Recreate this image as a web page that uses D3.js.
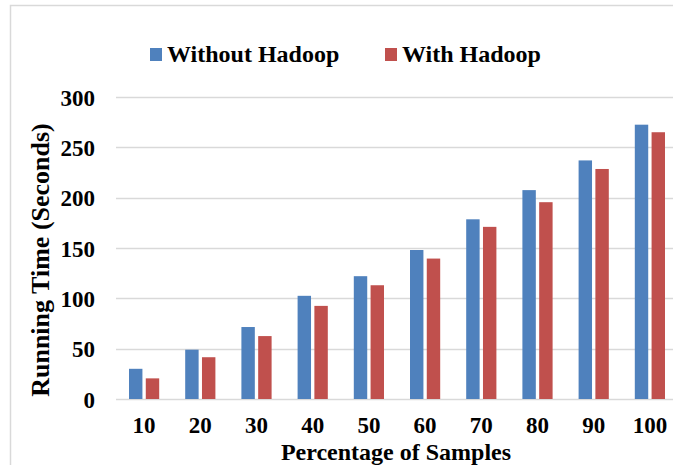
<!DOCTYPE html>
<html>
<head>
<meta charset="utf-8">
<script src="https://cdn.jsdelivr.net/npm/d3@7"></script>
<style>
  body { margin: 0; background: #fff; }
  svg { display: block; }
  text { font-family: "Liberation Serif", "Times New Roman", serif; font-weight: bold; fill: #000; }
</style>
</head>
<body>
<div id="chart"></div>
<script>
var categories = ['10', '20', '30', '40', '50', '60', '70', '80', '90', '100'];
var withoutHadoop = [30, 49, 71.5, 102.5, 122, 148, 178.5, 207.5, 237, 272.5];
var withHadoop = [20.5, 41.5, 62.5, 92.5, 113, 139.5, 171, 195.5, 228.5, 265];
var seriesNames = ['Without Hadoop', 'With Hadoop'];
var seriesColors = ['#4f81bd', '#c0504d'];
var yTicks = [0, 50, 100, 150, 200, 250, 300];

var W = 673, H = 465;
var margin = {top: 97, right: -5, bottom: 66, left: 116};
var width = W - margin.left - margin.right;
var height = H - margin.top - margin.bottom;

var svg = d3.select('#chart').append('svg')
  .attr('width', W)
  .attr('height', H);

// outer chart border
svg.append('rect')
  .attr('x', 10.5).attr('y', 5.5)
  .attr('width', 700).attr('height', 500)
  .attr('fill', 'none')
  .attr('stroke', '#d9d9d9')
  .attr('stroke-width', 1.5);

var g = svg.append('g')
  .attr('transform', 'translate(' + margin.left + ',' + margin.top + ')');

var x0 = d3.scaleBand().domain(categories).range([0, width]).paddingInner(0).paddingOuter(0);
var x1 = d3.scaleBand().domain(seriesNames).range([13, x0.bandwidth() - 13]).paddingInner(0.2);
var y = d3.scaleLinear().domain([0, 300]).range([height, 0]);

// gridlines
g.append('g').selectAll('line')
  .data(yTicks)
  .enter().append('line')
  .attr('x1', 0).attr('x2', width)
  .attr('y1', function(d) { return Math.round(y(d)) + 0.5; })
  .attr('y2', function(d) { return Math.round(y(d)) + 0.5; })
  .attr('stroke', '#d9d9d9')
  .attr('stroke-width', 1.5);

var data = categories.map(function(c, i) {
  return {cat: c, vals: [withoutHadoop[i], withHadoop[i]]};
});

var groups = g.append('g').selectAll('g')
  .data(data)
  .enter().append('g')
  .attr('transform', function(d) { return 'translate(' + x0(d.cat) + ',0)'; });

groups.selectAll('rect')
  .data(function(d) { return d.vals.map(function(v, j) { return {name: seriesNames[j], value: v, j: j}; }); })
  .enter().append('rect')
  .attr('x', function(d) { return x1(d.name); })
  .attr('width', x1.bandwidth())
  .attr('y', function(d) { return y(d.value); })
  .attr('height', function(d) { return y(0) - y(d.value); })
  .attr('fill', function(d) { return seriesColors[d.j]; });

// y axis labels
var yAxis = d3.axisLeft(y).tickValues(yTicks).tickSize(0).tickPadding(21);
g.append('g').call(yAxis)
  .call(function(s) { s.select('.domain').remove(); })
  .selectAll('text')
  .style('font-size', '23px')
  .style('font-family', '"Liberation Serif", serif')
  .attr('dy', '0.35em');

// x axis labels
var xAxis = d3.axisBottom(x0).tickSize(0);
g.append('g').attr('transform', 'translate(0,' + height + ')').call(xAxis)
  .call(function(s) { s.select('.domain').remove(); })
  .selectAll('text')
  .attr('y', 34).attr('dy', 0)
  .style('font-size', '23px')
  .style('font-family', '"Liberation Serif", serif');

// axis titles
svg.append('text')
  .attr('x', 396).attr('y', 460)
  .attr('text-anchor', 'middle')
  .style('font-size', '24px')
  .text('Percentage of Samples');

svg.append('text')
  .attr('transform', 'translate(49,260) rotate(-90)')
  .attr('text-anchor', 'middle')
  .style('font-size', '26px')
  .text('Running Time (Seconds)');

// legend
var legendX = [150, 385];
var legend = svg.append('g').selectAll('g')
  .data(seriesNames)
  .enter().append('g')
  .attr('transform', function(d, i) { return 'translate(' + legendX[i] + ',48)'; });

legend.append('rect')
  .attr('width', 12).attr('height', 13)
  .attr('fill', function(d, i) { return seriesColors[i]; });

legend.append('text')
  .attr('x', 17).attr('y', 14)
  .style('font-size', '24px')
  .text(function(d) { return d; });
</script>
</body>
</html>
